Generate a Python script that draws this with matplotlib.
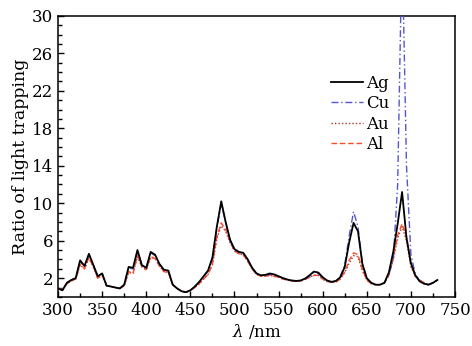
import numpy as np
import matplotlib.pyplot as plt
from matplotlib.ticker import MultipleLocator, FixedLocator

plt.rcParams['font.family'] = ['DejaVu Serif']
plt.rcParams['mathtext.fontset'] = 'dejavuserif'

wl = np.arange(300, 731, 5)

ag = [0.9, 0.7, 1.5, 1.8, 2.0, 3.9, 3.3, 4.6, 3.4, 2.2,
      2.5, 1.2, 1.1, 1.0, 0.9, 1.3, 3.2, 3.1, 5.0, 3.4,
      3.1, 4.8, 4.5, 3.5, 2.9, 2.8, 1.3, 0.9, 0.6, 0.5,
      0.7, 1.1, 1.6, 2.2, 2.8, 4.2, 7.5, 10.2, 8.0, 6.1,
      5.1, 4.8, 4.7, 4.0, 3.1, 2.5, 2.3, 2.35, 2.5, 2.4,
      2.2, 2.0, 1.85, 1.75, 1.7, 1.75, 1.95, 2.3, 2.7, 2.6,
      2.1, 1.75, 1.6, 1.7, 2.1, 3.2, 5.8, 7.9, 7.0, 3.5,
      2.0, 1.5, 1.3, 1.3, 1.5, 2.6, 4.8, 7.8, 11.2, 6.3,
      3.6, 2.3, 1.65, 1.4, 1.3, 1.5, 1.8]

cu = [0.9, 0.7, 1.5, 1.8, 2.0, 3.8, 3.3, 4.5, 3.4, 2.2,
      2.5, 1.2, 1.1, 1.0, 0.9, 1.3, 3.1, 3.0, 4.9, 3.3,
      3.1, 4.7, 4.4, 3.5, 2.9, 2.8, 1.3, 0.9, 0.6, 0.5,
      0.7, 1.1, 1.6, 2.2, 2.8, 4.1, 7.3, 10.0, 7.9, 6.0,
      5.0, 4.8, 4.6, 4.0, 3.1, 2.5, 2.3, 2.3, 2.4, 2.3,
      2.2, 2.0, 1.85, 1.75, 1.7, 1.75, 1.9, 2.2, 2.6, 2.5,
      2.0, 1.7, 1.6, 1.7, 2.2, 3.4, 6.5, 9.1, 7.5, 3.6,
      2.0, 1.5, 1.3, 1.3, 1.5, 2.4, 4.0, 12.0, 38.0, 14.0,
      4.5, 2.4, 1.7, 1.4, 1.3, 1.5, 1.8]

au = [0.9, 0.8, 1.4, 1.7, 1.9, 3.4, 3.0, 4.1, 3.2, 2.0,
      2.3, 1.2, 1.1, 1.0, 0.9, 1.2, 2.6, 2.5, 4.3, 3.2,
      2.9, 4.2, 4.1, 3.3, 2.7, 2.6, 1.3, 0.9, 0.6, 0.5,
      0.7, 1.0, 1.4, 1.9, 2.4, 3.4, 6.2, 7.6, 7.0, 5.8,
      4.9, 4.6, 4.5, 3.8, 3.0, 2.4, 2.2, 2.2, 2.3, 2.2,
      2.1, 1.9, 1.8, 1.7, 1.65, 1.7, 1.85, 2.1, 2.3, 2.3,
      1.9, 1.65, 1.55, 1.6, 1.9, 2.6, 3.6, 4.4, 4.3, 2.8,
      1.8, 1.4, 1.3, 1.3, 1.5, 2.3, 4.0, 6.3, 7.5, 6.0,
      3.2, 2.2, 1.8, 1.5, 1.3, 1.5, 1.8]

al = [0.9, 0.8, 1.4, 1.7, 1.9, 3.5, 3.0, 4.2, 3.2, 2.0,
      2.3, 1.2, 1.1, 1.0, 0.9, 1.2, 2.7, 2.5, 4.4, 3.2,
      2.9, 4.3, 4.1, 3.3, 2.7, 2.6, 1.3, 0.9, 0.6, 0.5,
      0.7, 1.0, 1.4, 1.9, 2.4, 3.5, 6.4, 7.9, 7.2, 5.9,
      4.9, 4.6, 4.5, 3.8, 3.0, 2.4, 2.2, 2.2, 2.3, 2.2,
      2.1, 1.9, 1.8, 1.7, 1.65, 1.7, 1.85, 2.1, 2.3, 2.3,
      1.9, 1.65, 1.55, 1.6, 1.9, 2.7, 3.9, 4.7, 4.5, 2.9,
      1.8, 1.4, 1.3, 1.3, 1.5, 2.3, 4.1, 6.6, 7.8, 6.4,
      3.4, 2.2, 1.8, 1.5, 1.3, 1.5, 1.8]

fig = plt.figure(figsize=(4.72, 3.46), dpi=100)
ax = fig.add_axes([0.123, 0.142, 0.841, 0.812])

ax.plot(wl, ag, color='black', lw=1.3, label='Ag', zorder=4)
ax.plot(wl, cu, color='#5555cc', lw=1.0, ls=(0, (5, 2, 1, 2)), label='Cu', zorder=3)
ax.plot(wl, au, color='#b03020', lw=1.0, ls=(0, (1, 1.5)), label='Au', zorder=2)
ax.plot(wl, al, color='#ff4a2a', lw=1.0, ls=(0, (4, 2)), label='Al', zorder=2)

ax.set_xlim(300, 750)
ax.set_ylim(0, 30)
ax.xaxis.set_major_locator(MultipleLocator(50))
ax.xaxis.set_minor_locator(MultipleLocator(25))
ax.yaxis.set_major_locator(FixedLocator([2, 6, 10, 14, 18, 22, 26, 30]))
ax.yaxis.set_minor_locator(MultipleLocator(1))
ax.tick_params(which='both', direction='in', top=False, right=False,
               labelsize=12, width=1.0)
ax.tick_params(which='major', length=4)
ax.tick_params(which='minor', length=3)
for s in ax.spines.values():
    s.set_linewidth(1.1)

ax.set_xlabel(r'$\lambda$ /nm', fontsize=12, labelpad=2)
ax.set_ylabel('Ratio of light trapping', fontsize=12.5, labelpad=2)

ax.legend(loc='upper left', bbox_to_anchor=(0.688, 0.79), frameon=False,
          fontsize=12, handlelength=1.9, handletextpad=0.2,
          labelspacing=0.2, borderaxespad=0, borderpad=0)

fig.savefig('out.png', dpi=100)
